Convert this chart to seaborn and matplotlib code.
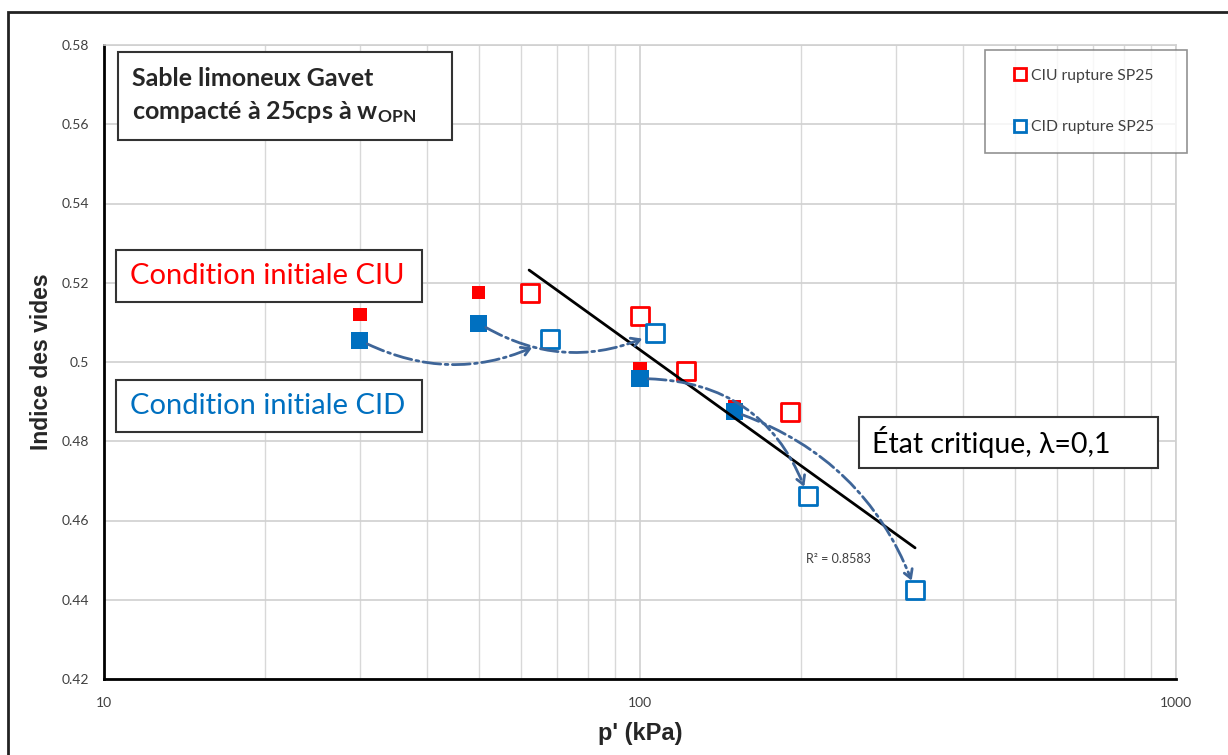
import numpy as np
import pandas as pd
import matplotlib.pyplot as plt
import seaborn as sns
from matplotlib.lines import Line2D
from matplotlib.patches import Rectangle

# --- données ---
# conditions initiales (symboles pleins)
p_ciu_init = [30, 50, 100, 150]
e_ciu_init = [0.512, 0.5175, 0.4982, 0.4886]
p_cid_init = [30, 50, 100, 150]
e_cid_init = [0.5055, 0.5098, 0.4958, 0.4874]

# rupture (symboles vides)
p_ciu_rupt = [62.4, 100, 121.8, 190.5]
e_ciu_rupt = [0.5174, 0.5116, 0.4978, 0.4874]
p_cid_rupt = [67.9, 106.7, 205.6, 326]
e_cid_rupt = [0.5058, 0.5073, 0.4662, 0.4425]

# droite d'état critique (extrémités)
p_csl = [62.1, 326]
e_csl = [0.5232, 0.4531]

# chemins CID (indice départ -> indice arrivée) et courbure
chemins = [(0, 0, 0.26), (1, 1, 0.27), (2, 2, -0.35), (3, 3, -0.24)]
chemins_shrink = [14, 10, 7, 7]

RED = "#FF0000"
BLUE = "#0070C0"
ARROW = "#3E6598"

sns.set_style("white")
plt.rcParams['font.family'] = ['Lato', 'DejaVu Sans']
plt.rcParams['mathtext.fontset'] = 'custom'
plt.rcParams['mathtext.rm'] = 'Lato'
plt.rcParams['mathtext.bf'] = 'Lato:bold'

fig = plt.figure(figsize=(12.28, 7.55), dpi=100)
ax = fig.add_axes([104 / 1228, 1 - 679 / 755, 1072 / 1228, 634 / 755])

df_ci = pd.DataFrame({'p': p_ciu_init, 'e': e_ciu_init})
df_di = pd.DataFrame({'p': p_cid_init, 'e': e_cid_init})
df_cr = pd.DataFrame({'p': p_ciu_rupt, 'e': e_ciu_rupt})
df_dr = pd.DataFrame({'p': p_cid_rupt, 'e': e_cid_rupt})

ax.set_xscale('log')
ax.set_xlim(10, 1000)
ax.set_ylim(0.42, 0.58)

# grille
ax.grid(True, which='major', color='#D0D0D0', lw=1.2)
ax.grid(True, which='minor', axis='x', color='#D8D8D8', lw=1.0)
ax.set_axisbelow(True)

sns.scatterplot(data=df_ci, x='p', y='e', ax=ax, marker='s', s=95, color=RED,
                edgecolor='none', zorder=3)
sns.scatterplot(data=df_di, x='p', y='e', ax=ax, marker='s', s=150, color=BLUE,
                edgecolor='none', zorder=4)
sns.scatterplot(data=df_cr, x='p', y='e', ax=ax, marker='s', s=150, facecolor='white',
                edgecolor=RED, linewidth=2, zorder=3)
sns.scatterplot(data=df_dr, x='p', y='e', ax=ax, marker='s', s=170, facecolor='white',
                edgecolor=BLUE, linewidth=2, zorder=3)

ax.plot(p_csl, e_csl, color='black', lw=2, zorder=5)

# chemins de contrainte CID
for (i, j, rad), sh in zip(chemins, chemins_shrink):
    ax.annotate('', xy=(p_cid_rupt[j], e_cid_rupt[j]), xytext=(p_cid_init[i], e_cid_init[i]),
                arrowprops=dict(arrowstyle='->,head_length=0.6,head_width=0.35',
                                linestyle='-.', color=ARROW, lw=2,
                                connectionstyle=f'arc3,rad={rad}',
                                shrinkA=6, shrinkB=sh),
                zorder=6)

# axes
ax.set_yticks(np.arange(0.42, 0.581, 0.02))
ax.set_yticklabels(['0.42', '0.44', '0.46', '0.48', '0.5', '0.52', '0.54', '0.56', '0.58'])
ax.set_xticks([10, 100, 1000])
ax.set_xticklabels(['10', '100', '1000'])
ax.tick_params(axis='both', which='major', labelsize=10, labelcolor='#404040',
               length=5, width=1.5, color='black', direction='out')
ax.tick_params(axis='x', which='minor', length=0)
ax.tick_params(axis='y', pad=6)
ax.tick_params(axis='x', pad=8)
for s in ['left', 'bottom']:
    ax.spines[s].set_color('black')
    ax.spines[s].set_linewidth(2)
for s in ['top', 'right']:
    ax.spines[s].set_color('#D0D0D0')
    ax.spines[s].set_linewidth(1.2)

ax.set_xlabel("p' (kPa)", fontsize=17, fontweight='bold', family='Liberation Sans', labelpad=9)
ax.set_ylabel("Indice des vides", fontsize=16.5, fontweight='bold', family='Liberation Sans', labelpad=6)


def cadre(x0, y0, x1, y1):
    ax.add_patch(Rectangle((x0, y0), x1 - x0, y1 - y0, transform=ax.transAxes,
                           facecolor='white', edgecolor='#333333', lw=1.5, zorder=7,
                           clip_on=False))


cadre(0.0131, 0.850, 0.3246, 0.989)
ax.text(0.0261, 0.920, "Sable limoneux Gavet\ncompacté à 25cps à $\\mathbf{w_{OPN}}$",
        transform=ax.transAxes, fontsize=18, fontweight='bold', va='center', ha='left',
        linespacing=1.45, zorder=8)

cadre(0.0112, 0.5946, 0.2966, 0.6767)
ax.text(0.0243, 0.6356, "Condition initiale CIU", transform=ax.transAxes, fontsize=21,
        color=RED, va='center', ha='left', zorder=8)

cadre(0.0112, 0.3896, 0.2966, 0.4716)
ax.text(0.0243, 0.4306, "Condition initiale CID", transform=ax.transAxes, fontsize=21,
        color=BLUE, va='center', ha='left', zorder=8)

cadre(0.7043, 0.3328, 0.9832, 0.4132)
ax.text(0.7164, 0.3738, "État critique, λ=0,1", transform=ax.transAxes, fontsize=20.5,
        color='black', va='center', ha='left', zorder=8)

ax.text(0.655, 0.19, "R² = 0.8583", transform=ax.transAxes, fontsize=9, color='#404040',
        va='center', ha='left')

handles = [
    Line2D([], [], marker='s', ls='none', markersize=8, markerfacecolor='white',
           markeredgecolor=RED, markeredgewidth=2, label='CIU rupture SP25'),
    Line2D([], [], marker='s', ls='none', markersize=8, markerfacecolor='white',
           markeredgecolor=BLUE, markeredgewidth=2, label='CID rupture SP25'),
]
leg = ax.legend(handles=handles, loc='upper left',
                bbox_to_anchor=(985 / 1228, 1 - 155 / 755, 202 / 1228, 105 / 755),
                bbox_transform=fig.transFigure, mode='expand', fontsize=11.3, frameon=True,
                fancybox=False, labelspacing=2.4, handletextpad=-0.25, handlelength=2.0,
                borderpad=1.2, borderaxespad=0, edgecolor='#777777')
leg.get_frame().set_linewidth(1.2)
leg.set_zorder(9)
for t in leg.get_texts():
    t.set_color('#404040')

# cadre extérieur de la zone de graphique
fig.add_artist(Rectangle((8 / 1228, -0.1), 1.2, 1.1 - 12 / 755, transform=fig.transFigure,
                         fill=False, edgecolor='#222222', lw=2))

fig.savefig('out.png', dpi=100)
